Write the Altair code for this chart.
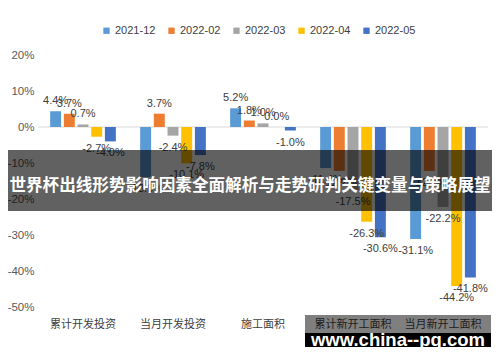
import altair as alt
import pandas as pd

categories = ["累计开发投资", "当月开发投资", "施工面积", "累计新开工面积", "当月新开工面积"]
series = ["2021-12", "2022-02", "2022-03", "2022-04", "2022-05"]
v_2021_12 = [4.4, -13.9, 5.2, -11.4, -31.1]
v_2022_02 = [3.7, 3.7, 1.8, -12.2, -12.2]
v_2022_03 = [0.7, -2.4, 1.0, -17.5, -22.2]
v_2022_04 = [-2.7, -10.1, 0.0, -26.3, -44.2]
v_2022_05 = [-4.0, -7.8, -1.0, -30.6, -41.8]
colors = ["#5B9BD5", "#ED7D31", "#A5A5A5", "#FFC000", "#4472C4"]
y_ticks = [-50, -40, -30, -20, -10, 0, 10, 20]
banner_text = "世界杯出线形势影响因素全面解析与走势研判关键变量与策略展望"
watermark_text = "www.china--pg.com"

FONT = "Liberation Sans, Arial, Noto Sans CJK SC"

rows = []
for s, vals in zip(series, [v_2021_12, v_2022_02, v_2022_03, v_2022_04, v_2022_05]):
    for c, v in zip(categories, vals):
        rows.append({"category": c, "series": s, "value": v, "label": f"{v:.1f}%"})
df = pd.DataFrame(rows)

y_scale = alt.Scale(domain=[-50, 20], nice=False, zero=False)
x_scale = alt.Scale(paddingInner=0.27, paddingOuter=0.135)
x_axis = alt.Axis(title=None, labelAngle=0, ticks=False, domain=False,
                  labelFontSize=11, labelColor="#404040", labelPadding=11,
                  labelFont=FONT)
y_axis = alt.Axis(title=None, values=y_ticks, grid=False, ticks=False, domain=False,
                  labelExpr="datum.value + '%'", labelFontSize=11.5,
                  labelColor="#595959", labelPadding=4, labelFont=FONT,
                  labelOverlap=False, labelBound=False, labelFlush=False)

x_enc = alt.X("category:N", sort=categories, scale=x_scale, axis=x_axis)
xoff_enc = alt.XOffset("series:N", sort=series,
                       scale=alt.Scale(paddingInner=0.2, paddingOuter=0))
y_enc = alt.Y("value:Q", scale=y_scale, axis=y_axis)
color_enc = alt.Color("series:N", sort=series,
                      scale=alt.Scale(domain=series, range=colors),
                      legend=alt.Legend(title=None, orient="none", legendX=63, legendY=-30,
                                        direction="horizontal", symbolType="square",
                                        symbolSize=40, labelFontSize=11, labelColor="#404040",
                                        labelFont=FONT, columnPadding=10, labelOffset=3,
                                        symbolStrokeWidth=0))

base = alt.Chart(df)

bars = base.mark_bar().encode(x=x_enc, xOffset=xoff_enc, y=y_enc, y2=alt.datum(0), color=color_enc)

zero_rule = alt.Chart(pd.DataFrame({"value": [0]})).mark_rule(color="#D9D9D9", strokeWidth=1).encode(
    y=y_enc)

pos_labels = base.transform_filter("datum.value >= 0").mark_text(
    baseline="bottom", dy=-5, fontSize=11, color="#404040", font=FONT).encode(
    x=x_enc, xOffset=xoff_enc, y=y_enc, text="label:N")

neg_labels = base.transform_filter("datum.value < 0").mark_text(
    baseline="top", dy=6, fontSize=11, color="#404040", font=FONT).encode(
    x=x_enc, xOffset=xoff_enc, y=y_enc, text="label:N")

banner_df = pd.DataFrame({"t": [banner_text]})
banner_rect = alt.Chart(banner_df).mark_rect(color="black", opacity=0.62).encode(
    x=alt.value(-35), x2=alt.value(459), y=alt.value(95), y2=alt.value(156))
banner_txt = alt.Chart(banner_df).mark_text(
    color="white", fontSize=16.6, fontWeight="bold", font="Noto Sans CJK SC",
    align="center", baseline="middle").encode(
    x=alt.value(212), y=alt.value(131), text="t:N")

wm_df = pd.DataFrame({"t": [watermark_text]})
wm_top = alt.Chart(wm_df).mark_rect(color="black", opacity=0.5).encode(
    x=alt.value(267), x2=alt.value(453), y=alt.value(260), y2=alt.value(278))
wm_bot = alt.Chart(wm_df).mark_rect(color="black", opacity=1).encode(
    x=alt.value(267), x2=alt.value(453), y=alt.value(278), y2=alt.value(298))
wm_txt = alt.Chart(wm_df).mark_text(
    color="white", fontSize=18.5, fontWeight="bold", font="Liberation Sans, Arial",
    align="center", baseline="alphabetic").encode(
    x=alt.value(360), y=alt.value(291), text="t:N")

chart = alt.layer(zero_rule, bars, pos_labels, neg_labels,
                  banner_rect, banner_txt, wm_top, wm_bot, wm_txt).properties(
    width=450, height=252,
    autosize=alt.AutoSizeParams(type="none"),
    padding={"left": 30, "top": 47, "right": 4, "bottom": 40},
    background="white"
).configure_view(stroke=None).configure_axisY(labelOverlap=False)

chart.save("out.html", embed_options={"renderer": "svg", "actions": False})
